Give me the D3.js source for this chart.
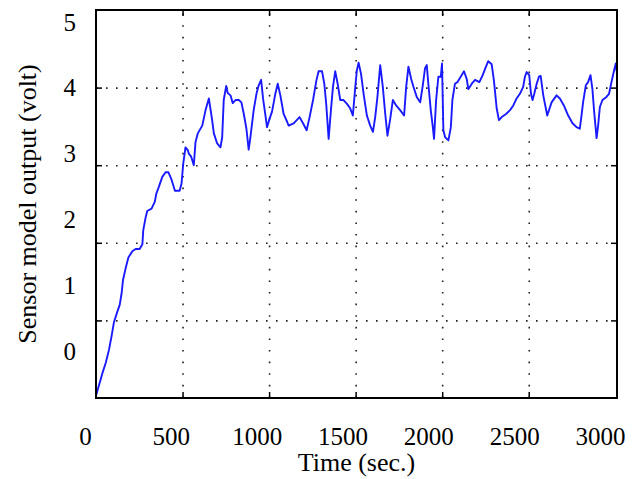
<!DOCTYPE html>
<html>
<head>
<meta charset="utf-8">
<script src="https://cdn.jsdelivr.net/npm/d3@7"></script>
<style>
	body { margin: 0; background: #fff; }
	svg { display: block; font-family: 'Liberation Serif', 'Times New Roman', serif; }
</style>
</head>
<body>
<main></main>
<script>
const time = [
	0, 37, 56, 75, 91, 104, 123, 137, 148, 156,
	171, 187, 210, 229, 252, 268, 273, 287, 296, 321,
	340, 348, 363, 383, 402, 418, 437, 456, 483, 494,
	504, 517, 531, 536, 550, 565, 575, 588, 614, 633,
	652, 661, 671, 681, 700, 719, 729, 738, 752, 761,
	777, 790, 806, 825, 840, 854, 869, 882, 892, 911,
	927, 940, 954, 965, 979, 988, 1003, 1017, 1036, 1050,
	1065, 1084, 1104, 1113, 1142, 1176, 1196, 1217, 1234, 1254,
	1273, 1286, 1306, 1319, 1330, 1344, 1358, 1369, 1382, 1396,
	1411, 1430, 1450, 1469, 1484, 1498, 1507, 1517, 1531, 1546,
	1565, 1584, 1600, 1613, 1626, 1642, 1657, 1671, 1684, 1700,
	1715, 1734, 1757, 1780, 1792, 1805, 1821, 1834, 1853, 1873,
	1888, 1901, 1911, 1920, 1934, 1946, 1953, 1965, 1978, 1992,
	1999, 2007, 2017, 2036, 2050, 2059, 2074, 2088, 2107, 2126,
	2142, 2151, 2171, 2190, 2215, 2234, 2253, 2266, 2286, 2299,
	2315, 2328, 2344, 2369, 2392, 2411, 2430, 2449, 2468, 2478,
	2488, 2503, 2513, 2522, 2532, 2546, 2559, 2569, 2584, 2599,
	2607, 2632, 2661, 2680, 2703, 2728, 2753, 2776, 2795, 2805,
	2814, 2830, 2843, 2857, 2868, 2878, 2892, 2901, 2911, 2926,
	2949, 2964, 2978, 2991, 3003, 3010
]
const voltage = [
	0.03, 0.32, 0.45, 0.62, 0.81, 0.98, 1.11, 1.20, 1.35, 1.52,
	1.67, 1.81, 1.89, 1.92, 1.92, 1.98, 2.16, 2.33, 2.41, 2.44,
	2.53, 2.63, 2.72, 2.85, 2.91, 2.91, 2.81, 2.67, 2.67, 2.76,
	3.02, 3.23, 3.19, 3.15, 3.11, 3.00, 3.30, 3.41, 3.51, 3.71,
	3.86, 3.73, 3.58, 3.41, 3.28, 3.23, 3.36, 3.84, 4.02, 3.93,
	3.90, 3.80, 3.84, 3.84, 3.81, 3.66, 3.47, 3.20, 3.36, 3.71,
	3.92, 4.03, 4.10, 3.86, 3.64, 3.49, 3.60, 3.69, 3.92, 4.05,
	3.90, 3.66, 3.56, 3.51, 3.54, 3.62, 3.54, 3.45, 3.62, 3.84,
	4.09, 4.21, 4.21, 4.05, 3.79, 3.34, 3.73, 4.01, 4.21, 4.05,
	3.84, 3.84, 3.79, 3.73, 3.64, 4.01, 4.22, 4.32, 4.18, 3.92,
	3.64, 3.51, 3.43, 3.62, 3.88, 4.29, 4.01, 3.66, 3.38, 3.60,
	3.84, 3.77, 3.71, 3.64, 4.01, 4.27, 4.11, 4.01, 3.88, 3.81,
	4.03, 4.25, 4.29, 4.05, 3.71, 3.49, 3.34, 3.84, 4.14, 4.14,
	4.31, 3.45, 3.36, 3.32, 3.49, 3.84, 4.05, 4.07, 4.14, 4.21,
	4.11, 3.98, 4.05, 4.10, 4.07, 4.16, 4.27, 4.34, 4.30, 4.09,
	3.73, 3.58, 3.62, 3.66, 3.71, 3.77, 3.86, 3.92, 4.01, 4.14,
	4.20, 4.16, 3.92, 3.84, 3.92, 4.05, 4.14, 4.15, 3.90, 3.73,
	3.64, 3.81, 3.90, 3.86, 3.77, 3.64, 3.54, 3.49, 3.47, 3.64,
	3.81, 4.03, 4.07, 4.16, 3.98, 3.69, 3.35, 3.51, 3.75, 3.84,
	3.88, 3.92, 4.07, 4.20, 4.31, 4.18
]
const xGrid = [500, 1000, 1500, 2000, 2500]
const yGrid = [1, 2, 3, 4]
const xLabels = [0, 500, 1000, 1500, 2000, 2500, 3000]
const yLabels = [0, 1, 2, 3, 4, 5]
const xTitle = 'Time (sec.)'
const yTitle = 'Sensor model output (volt)'

const width = 643
const height = 479
const margin = { top: 10, right: 26, bottom: 81, left: 96 }
const innerW = width - margin.left - margin.right
const innerH = height - margin.top - margin.bottom
const tickFont = 25
const titleFont = 26

const svg = d3.select('main')
	.append('svg')
	.attr('width', width)
	.attr('height', height)

const xScale = d3.scaleLinear().domain([0, 3010]).range([margin.left, margin.left + innerW])
const yScale = d3.scaleLinear().domain([0, 5]).range([margin.top + innerH, margin.top])

// labels in the original sit a little off the ticks, so they get their own scales
const xLabelScale = d3.scaleLinear().domain([0, 3000]).range([85, 600])
const yLabelScale = d3.scaleLinear().domain([0, 5]).range([351, 22])

// Grid
svg.append('g')
	.attr('class', 'grid')
	.attr('transform', `translate(0,${margin.top + innerH})`)
	.call(d3.axisBottom(xScale).tickValues(xGrid).tickSize(-innerH).tickFormat(''))
	.call(g => g.select('.domain').remove())
	.selectAll('line')
	.attr('stroke', '#222')
	.attr('stroke-width', 1.6)
	.attr('stroke-dasharray', '1.6,10')

svg.append('g')
	.attr('class', 'grid')
	.attr('transform', `translate(${margin.left},0)`)
	.call(d3.axisLeft(yScale).tickValues(yGrid).tickSize(-innerW).tickFormat(''))
	.call(g => g.select('.domain').remove())
	.selectAll('line')
	.attr('stroke', '#222')
	.attr('stroke-width', 1.6)
	.attr('stroke-dasharray', '1.6,8.4')

// Line
svg.append('clipPath')
	.attr('id', 'clip')
	.append('rect')
	.attr('x', margin.left)
	.attr('y', margin.top)
	.attr('width', innerW)
	.attr('height', innerH)

const line = d3.line()
	.x(i => xScale(time[i]))
	.y(i => yScale(voltage[i]))

svg.append('path')
	.datum(d3.range(time.length))
	.attr('clip-path', 'url(#clip)')
	.attr('fill', 'none')
	.attr('stroke', '#1a1aff')
	.attr('stroke-width', 1.9)
	.attr('stroke-linejoin', 'round')
	.attr('d', line)

// Inward tick marks on all four sides
const tickLen = 6
const tickStyle = g => {
	g.select('.domain').remove()
	g.selectAll('line').attr('stroke', '#000').attr('stroke-width', 1.5)
}
svg.append('g').attr('transform', `translate(0,${margin.top + innerH})`)
	.call(d3.axisBottom(xScale).tickValues(xGrid).tickSize(-tickLen).tickFormat('')).call(tickStyle)
svg.append('g').attr('transform', `translate(0,${margin.top})`)
	.call(d3.axisTop(xScale).tickValues(xGrid).tickSize(-tickLen).tickFormat('')).call(tickStyle)
svg.append('g').attr('transform', `translate(${margin.left},0)`)
	.call(d3.axisLeft(yScale).tickValues(yGrid).tickSize(-tickLen).tickFormat('')).call(tickStyle)
svg.append('g').attr('transform', `translate(${margin.left + innerW},0)`)
	.call(d3.axisRight(yScale).tickValues(yGrid).tickSize(-tickLen).tickFormat('')).call(tickStyle)

// Frame
svg.append('rect')
	.attr('x', margin.left)
	.attr('y', margin.top)
	.attr('width', innerW)
	.attr('height', innerH)
	.attr('fill', 'none')
	.attr('stroke', '#000')
	.attr('stroke-width', 2)

// Tick labels
svg.append('g')
	.attr('transform', 'translate(0,445)')
	.call(d3.axisBottom(xLabelScale).tickValues(xLabels).tickSize(0).tickFormat(d3.format('d')))
	.call(g => g.select('.domain').remove())
	.selectAll('text')
	.attr('y', 0)
	.attr('dy', 0)
	.attr('fill', '#000')
	.style('font-size', tickFont + 'px')
	.style('font-family', "'Liberation Serif', 'Times New Roman', serif")

svg.append('g')
	.attr('transform', 'translate(76,0)')
	.call(d3.axisLeft(yLabelScale).tickValues(yLabels).tickSize(0).tickPadding(0).tickFormat(d3.format('d')))
	.call(g => g.select('.domain').remove())
	.selectAll('text')
	.attr('fill', '#000')
	.style('font-size', tickFont + 'px')
	.style('font-family', "'Liberation Serif', 'Times New Roman', serif")

// Axis titles
svg.append('text')
	.attr('x', margin.left + innerW / 2)
	.attr('y', 471)
	.attr('text-anchor', 'middle')
	.style('font-size', titleFont + 'px')
	.text(xTitle)

svg.append('text')
	.attr('transform', `translate(36,${margin.top + innerH / 2}) rotate(-90)`)
	.attr('text-anchor', 'middle')
	.style('font-size', titleFont + 'px')
	.text(yTitle)
</script>
</body>
</html>
